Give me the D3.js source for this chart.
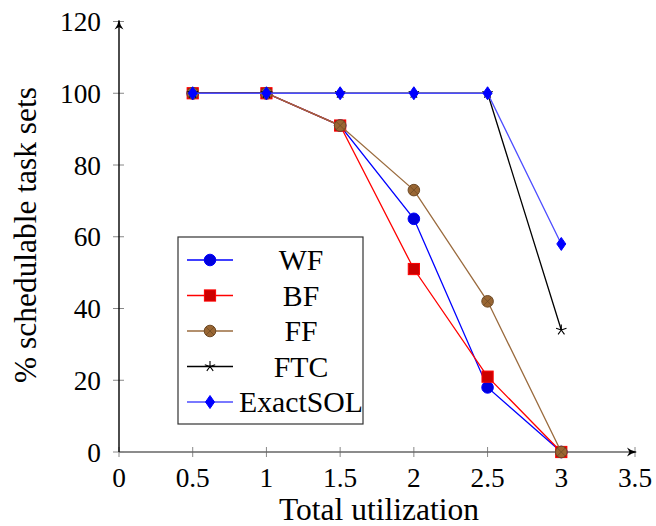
<!DOCTYPE html>
<html>
<head>
<meta charset="utf-8">
<script src="https://cdn.jsdelivr.net/npm/d3@7"></script>
</head>
<body style="margin:0">
<script>
const width = 656, height = 526;
const fontFace = "'Liberation Serif', 'Noto Serif CJK SC', 'Times New Roman', serif";

// data
const utilization = [0.5, 1, 1.5, 2, 2.5, 3];
const wf = [100, 100, 91, 65, 18, 0];
const bf = [100, 100, 91, 51, 21, 0];
const ff = [100, 100, 91, 73, 42, 0];
const ftc = [100, 100, 100, 100, 100, 34];
const exactSol = [100, 100, 100, 100, 100, 58];
const xTicks = [0, 0.5, 1, 1.5, 2, 2.5, 3, 3.5];
const yTicks = [0, 20, 40, 60, 80, 100, 120];

const series = [
  { name: 'WF', values: wf, color: '#0000ff', mark: 'circle', fill: '#0000dd' },
  { name: 'BF', values: bf, color: '#ff0000', mark: 'square', fill: '#cc0000' },
  { name: 'FF', values: ff, color: '#9a6b3e', mark: 'otimes', fill: '#996633' },
  { name: 'FTC', values: ftc, color: '#000000', mark: 'star', fill: '#000' },
  { name: 'ExactSOL', values: exactSol, color: '#4d4dff', mark: 'diamond', fill: '#0000ff' }
];

const x = d3.scaleLinear().domain([0, 3.5]).range([119, 635]);
const y = d3.scaleLinear().domain([0, 120]).range([452, 21.5]);

let svg = d3
  .select('body')
  .append('svg')
  .attr('width', width)
  .attr('height', height);

// scale a group of texts so that one reference text gets the wanted width
function fitWidth(sel, refNode, target) {
  let w = refNode.getComputedTextLength();
  let size = parseFloat(d3.select(refNode).style('font-size'));
  if (w > 0) sel.style('font-size', (size * target / w) + 'px');
}

// arrow heads for the axis lines
svg
  .append('defs')
  .append('marker')
  .attr('id', 'arrow')
  .attr('viewBox', '0 -5 10 10')
  .attr('refX', 9)
  .attr('refY', 0)
  .attr('markerWidth', 10)
  .attr('markerHeight', 10)
  .attr('markerUnits', 'userSpaceOnUse')
  .attr('orient', 'auto')
  .append('path')
  .attr('d', 'M0,-4.5Q4,-1 10,0Q4,1 0,4.5L2.5,0Z')
  .attr('fill', '#000');

// x ticks and labels
let xAxis = svg.append('g');
xAxis.selectAll('line')
  .data(xTicks)
  .enter()
  .append('line')
  .attr('x1', function (d) { return x(d); })
  .attr('x2', function (d) { return x(d); })
  .attr('y1', y(0) - 5)
  .attr('y2', y(0) + 5)
  .attr('stroke', '#888');
let xLabels = xAxis.selectAll('text')
  .data(xTicks)
  .enter()
  .append('text')
  .attr('x', function (d) { return x(d); })
  .attr('y', y(0) + 35)
  .attr('text-anchor', 'middle')
  .style('font-family', fontFace)
  .style('font-size', '28px')
  .text(function (d) { return String(d); });
svg.append('line')
  .attr('x1', x(0)).attr('x2', x(3.5) + 1)
  .attr('y1', y(0)).attr('y2', y(0))
  .attr('stroke', '#666')
  .attr('stroke-width', 1.4)
  .attr('marker-end', 'url(#arrow)');

// y ticks and labels
let yAxis = svg.append('g');
yAxis.selectAll('line')
  .data(yTicks)
  .enter()
  .append('line')
  .attr('x1', x(0) - 6)
  .attr('x2', x(0) + 5)
  .attr('y1', function (d) { return y(d); })
  .attr('y2', function (d) { return y(d); })
  .attr('stroke', '#888');
let yLabels = yAxis.selectAll('text')
  .data(yTicks)
  .enter()
  .append('text')
  .attr('x', x(0) - 18)
  .attr('y', function (d) { return y(d) + 9.5; })
  .attr('text-anchor', 'end')
  .style('font-family', fontFace)
  .style('font-size', '28px')
  .text(function (d) { return String(d); });
svg.append('line')
  .attr('x1', x(0)).attr('x2', x(0))
  .attr('y1', y(0)).attr('y2', y(120) - 1)
  .attr('stroke', '#000')
  .attr('stroke-width', 1.4)
  .attr('marker-end', 'url(#arrow)');

// axis titles
let xTitle = svg.append('text')
  .attr('x', (x(0) + x(3.5)) / 2 + 2)
  .attr('y', 520)
  .attr('text-anchor', 'middle')
  .style('font-family', fontFace)
  .style('font-size', '31px')
  .text('Total utilization');

let yTitle = svg.append('text')
  .attr('transform', 'translate(36,235) rotate(-90)')
  .attr('text-anchor', 'middle')
  .style('font-family', fontFace)
  .style('font-size', '31px')
  .text('% schedulable task sets');

// draws one marker of the given kind at 0,0 inside g
function drawMark(g, s) {
  if (s.mark === 'circle') {
    g.append('circle').attr('r', 5.8).attr('fill', s.fill).attr('stroke', s.color);
  } else if (s.mark === 'square') {
    g.append('rect').attr('x', -5.6).attr('y', -5.6).attr('width', 11.2).attr('height', 11.2)
      .attr('fill', s.fill).attr('stroke', s.color);
  } else if (s.mark === 'otimes') {
    g.append('circle').attr('r', 5.8).attr('fill', s.fill).attr('stroke', '#6e4a26');
    g.append('path').attr('d', 'M-4,-4L4,4M-4,4L4,-4').attr('stroke', '#6e4a26').attr('stroke-width', 0.8);
  } else if (s.mark === 'star') {
    g.append('path')
      .attr('d', 'M0,-5.5L0,0M0,0L5.2,-1.7M0,0L3.2,4.4M0,0L-3.2,4.4M0,0L-5.2,-1.7')
      .attr('stroke', s.color).attr('stroke-width', 1.1);
  } else if (s.mark === 'diamond') {
    g.append('path').attr('d', 'M0,-6.5L4.5,0L0,6.5L-4.5,0Z')
      .attr('fill', s.fill).attr('stroke', s.fill);
  }
}

// plot lines and markers
let line = d3.line()
  .x(function (d) { return x(d[0]); })
  .y(function (d) { return y(d[1]); });

series.forEach(function (s) {
  let pts = utilization.map(function (u, i) { return [u, s.values[i]]; });
  let g = svg.append('g');
  g.append('path')
    .attr('d', line(pts))
    .attr('fill', 'none')
    .attr('stroke', s.color)
    .attr('stroke-width', 1.3);
  g.selectAll('.mk')
    .data(pts)
    .enter()
    .append('g')
    .attr('class', 'mk')
    .attr('transform', function (d) { return 'translate(' + x(d[0]) + ',' + y(d[1]) + ')'; })
    .each(function () { drawMark(d3.select(this), s); });
});

// legend
let legend = svg.append('g').attr('transform', 'translate(178,237)');
legend.append('rect')
  .attr('width', 185)
  .attr('height', 187)
  .attr('fill', '#fff')
  .attr('stroke', '#333')
  .attr('stroke-width', 1.2);

let item = legend.selectAll('.item')
  .data(series)
  .enter()
  .append('g')
  .attr('class', 'item')
  .attr('transform', function (d, i) { return 'translate(0,' + (23 + i * 35.5) + ')'; });
item.append('line')
  .attr('x1', 9).attr('x2', 55)
  .attr('stroke', function (d) { return d.color; })
  .attr('stroke-width', 1.3);
item.append('g')
  .attr('transform', 'translate(32,0)')
  .each(function (d) { drawMark(d3.select(this), d); });
let legendText = item.append('text')
  .attr('x', 123)
  .attr('y', 10)
  .attr('text-anchor', 'middle')
  .style('font-family', fontFace)
  .style('font-size', '30px')
  .text(function (d) { return d.name; });

// size texts to the reference widths; run again once fonts are ready
function fitAll() {
  let tickLabels = svg.selectAll('g text').filter(function () { return this.parentNode === xAxis.node() || this.parentNode === yAxis.node(); });
  tickLabels.style('font-size', '28px');
  fitWidth(tickLabels, yLabels.filter(function (d) { return d === 120; }).node(), 41);
  xTitle.style('font-size', '31px');
  fitWidth(xTitle, xTitle.node(), 200);
  yTitle.style('font-size', '31px');
  fitWidth(yTitle, yTitle.node(), 296);
  legendText.style('font-size', '30px');
  fitWidth(legendText, legendText.filter(function (d) { return d.name === 'ExactSOL'; }).node(), 124);
}
fitAll();
if (document.fonts && document.fonts.ready) {
  document.fonts.load("28px 'Liberation Serif'").then(fitAll, function () {});
  document.fonts.ready.then(fitAll);
}
</script>
</body>
</html>
